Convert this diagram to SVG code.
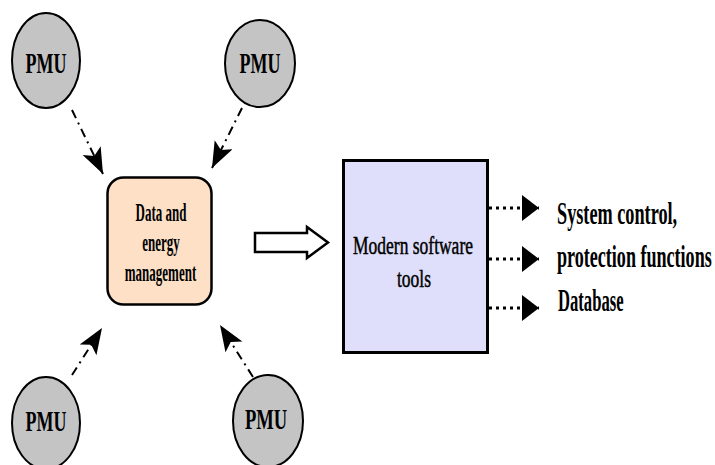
<svg xmlns="http://www.w3.org/2000/svg" width="715" height="465" viewBox="0 0 715 465">
<style>
.pmu{fill:#c4c4c4;stroke:#000;stroke-width:2}
.t{font-family:"Liberation Serif","Times New Roman",serif;font-weight:bold;fill:#000}
.n{font-family:"Liberation Serif","Times New Roman",serif;font-weight:normal;fill:#000;stroke:#000;stroke-width:0.5}
.dd{fill:none;stroke:#000;stroke-width:2;stroke-dasharray:9 5 2 5}
.dot{fill:none;stroke:#000;stroke-width:3;stroke-dasharray:3 4}
</style>
<defs>
<marker id="ah" markerUnits="userSpaceOnUse" markerWidth="28" markerHeight="22" refX="26" refY="10" orient="auto">
<path d="M0,0 L26,10 L0,20 L6,10 Z" fill="#000"/>
</marker>
<marker id="ah2" markerUnits="userSpaceOnUse" markerWidth="18" markerHeight="28" refX="17" refY="13" orient="auto">
<path d="M0,0 L17,13 L0,26 Z" fill="#000"/>
</marker>
</defs>
<g id="connectors">
<path class="dd" d="M72,110 L103,174" marker-end="url(#ah)"/>
<path class="dd" d="M242,108 L212,168" marker-end="url(#ah)"/>
<path class="dd" d="M72,375 L102,328" marker-end="url(#ah)"/>
<path class="dd" d="M253,377 L220,325" marker-end="url(#ah)"/>
<path d="M255,233 L307,233 L307,227 L328,242.5 L307,258 L307,252 L255,252 Z" fill="#fff" stroke="#000" stroke-width="2.5"/>
<path class="dot" d="M489,208 L539,208" marker-end="url(#ah2)"/>
<path class="dot" d="M489,259 L539,259" marker-end="url(#ah2)"/>
<path class="dot" d="M489,308 L539,308" marker-end="url(#ah2)"/>
</g>
<g id="pmu1">
<ellipse class="pmu" cx="46" cy="60.5" rx="34" ry="47.5"/>
<text class="t" font-size="29" text-anchor="middle" transform="translate(46,73) scale(0.62,1)">PMU</text>
</g>
<g id="pmu2">
<ellipse class="pmu" cx="260" cy="63.5" rx="35" ry="43.5"/>
<text class="t" font-size="29" text-anchor="middle" transform="translate(260,73) scale(0.62,1)">PMU</text>
</g>
<g id="pmu3">
<ellipse class="pmu" cx="46" cy="423" rx="34" ry="46"/>
<text class="t" font-size="29" text-anchor="middle" transform="translate(46,431) scale(0.62,1)">PMU</text>
</g>
<g id="pmu4">
<ellipse class="pmu" cx="268" cy="421" rx="35" ry="46"/>
<text class="t" font-size="29" text-anchor="middle" transform="translate(266,429) scale(0.64,1)">PMU</text>
</g>
<g id="dem">
<rect x="107.5" y="177.5" width="104" height="127" rx="16" fill="#fde0c6" stroke="#000" stroke-width="2.5"/>
<text class="t" font-size="25" text-anchor="middle" transform="translate(161,221) scale(0.52,1)">Data and</text>
<text class="t" font-size="25" text-anchor="middle" transform="translate(161,251) scale(0.52,1)">energy</text>
<text class="t" font-size="25" text-anchor="middle" transform="translate(160.5,281) scale(0.52,1)">management</text>
</g>
<g id="mst">
<rect x="343.5" y="160.5" width="144" height="192" fill="#dfdffb" stroke="#000" stroke-width="3"/>
<text class="n" font-size="25" text-anchor="middle" transform="translate(413,254) scale(0.7,1)">Modern  software</text>
<text class="n" font-size="25" text-anchor="middle" transform="translate(414,287) scale(0.7,1)">tools</text>
</g>
<g id="outputs">
<text class="t" font-size="32" transform="translate(557,224) scale(0.57,1)">System control,</text>
<text class="t" font-size="32" transform="translate(557,267) scale(0.565,1)">protection functions</text>
<text class="t" font-size="32" transform="translate(558,311) scale(0.52,1)">Database</text>
</g>
</svg>
